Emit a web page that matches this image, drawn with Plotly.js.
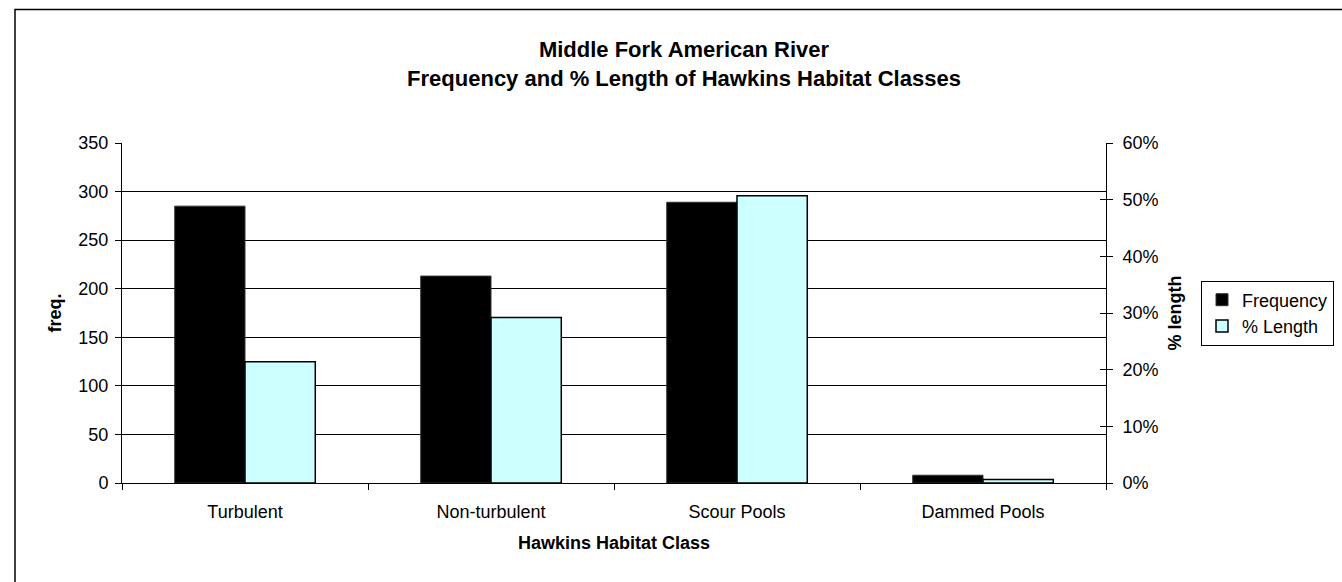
<!DOCTYPE html>
<html>
<head>
<meta charset="utf-8">
<script src="https://cdn.plot.ly/plotly-3.0.1.min.js"></script>
<style>
html,body{margin:0;padding:0;background:#fff;}
#chart{width:1342px;height:582px;}
</style>
</head>
<body>
<div id="chart"></div>
<script>
var categories = ['Turbulent', 'Non-turbulent', 'Scour Pools', 'Dammed Pools'];
var frequency = [285, 213, 289, 8];
var pctLength = [0.214, 0.292, 0.507, 0.006];
var freqTicks = [0, 50, 100, 150, 200, 250, 300, 350];
var pctTicks = [0, 0.1, 0.2, 0.3, 0.4, 0.5, 0.6];

var FONT = 'Liberation Sans, Arial, sans-serif';

var traces = [
  {
    type: 'bar', name: 'Frequency', x: categories, y: frequency,
    yaxis: 'y', offsetgroup: '1',
    marker: {color: '#000000', line: {color: '#333333', width: 1}}
  },
  {
    type: 'bar', name: '% Length', x: categories, y: pctLength,
    yaxis: 'y2', offsetgroup: '2',
    marker: {color: '#CCFFFF', line: {color: '#000000', width: 1.5}}
  }
];

var layout = {
  width: 1342, height: 582,
  paper_bgcolor: '#ffffff', plot_bgcolor: '#ffffff',
  font: {family: FONT, color: '#000000', size: 18},
  margin: {l: 122, r: 236, t: 143, b: 99, autoexpand: false},
  barmode: 'group', bargap: 0.4286, bargroupgap: 0,
  title: {
    text: '<b>Middle Fork American River</b><br><b>Frequency and % Length of Hawkins Habitat Classes</b>',
    font: {family: FONT, size: 22, color: '#000000'},
    x: 684 / 1342, xref: 'container', xanchor: 'center',
    y: 1 - 57 / 582, yref: 'container', yanchor: 'middle'
  },
  xaxis: {
    type: 'category', range: [-0.5, 3.5],
    showline: true, linecolor: '#000000', linewidth: 1,
    ticks: 'outside', tickson: 'boundaries', ticklen: 6, tickcolor: '#000000',
    ticklabelstandoff: 12,
    showgrid: false, zeroline: false,
    tickfont: {family: FONT, size: 18, color: '#000000'},
    title: {text: '<b>Hawkins Habitat Class</b>', font: {family: FONT, size: 18, color: '#000000'}, standoff: 15}
  },
  yaxis: {
    range: [0, 350], tickvals: freqTicks,
    showline: true, linecolor: '#000000', linewidth: 1,
    ticks: 'outside', ticklen: 6, tickcolor: '#000000',
    ticklabelstandoff: 3,
    showgrid: true, gridcolor: '#000000', gridwidth: 1,
    zeroline: false,
    tickfont: {family: FONT, size: 18, color: '#000000'},
    title: {text: '<b>freq.</b>', font: {family: FONT, size: 18, color: '#000000'}, standoff: 12}
  },
  yaxis2: {
    range: [0, 0.6], tickvals: pctTicks, tickformat: '.0%',
    overlaying: 'y', side: 'right',
    showline: true, linecolor: '#000000', linewidth: 1,
    ticks: 'outside', ticklen: 6, tickcolor: '#000000',
    ticklabelstandoff: 6,
    showgrid: false, zeroline: false,
    tickfont: {family: FONT, size: 18, color: '#000000'},
    title: {text: '<b>% length</b>', font: {family: FONT, size: 18, color: '#000000'}, standoff: 10}
  },
  yaxis3: {
    range: [0, 0.6], tickvals: pctTicks,
    overlaying: 'y', side: 'right', anchor: 'x',
    showline: false, ticks: 'inside', ticklen: 6, tickcolor: '#000000',
    showticklabels: false, showgrid: false, zeroline: false
  },
  showlegend: true,
  legend: {
    xref: 'container', yref: 'container',
    x: 1201 / 1342, xanchor: 'left',
    y: 1 - 313 / 582, yanchor: 'middle',
    bordercolor: '#000000', borderwidth: 1, bgcolor: '#ffffff',
    font: {family: FONT, size: 18, color: '#000000'},
    itemwidth: 30, traceorder: 'normal'
  },
  shapes: [
    {type: 'rect', xref: 'paper', yref: 'paper',
     x0: (15 - 122) / 984, x1: (1400 - 122) / 984,
     y0: (483 - 640) / 340, y1: (483 - 9.5) / 340,
     line: {color: '#000000', width: 1.5}, fillcolor: 'rgba(0,0,0,0)', layer: 'below'}
  ]
};

// invisible helper trace that activates yaxis3 (inside tick marks on the right axis)
traces.push({type: 'scatter', x: [categories[0]], y: [0], yaxis: 'y3', xaxis: 'x',
  mode: 'markers', marker: {opacity: 0}, showlegend: false, hoverinfo: 'skip'});

Plotly.newPlot('chart', traces, layout, {displayModeBar: false, staticPlot: true});
</script>
</body>
</html>
